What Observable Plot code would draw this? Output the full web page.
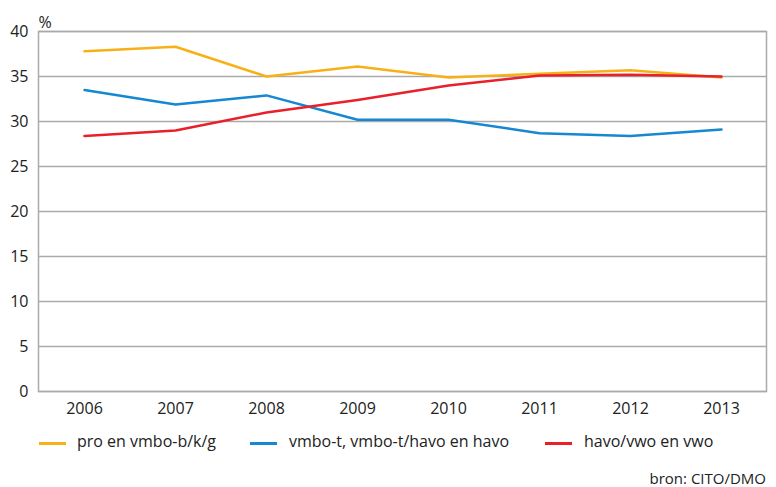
<!DOCTYPE html>
<html><head><meta charset="utf-8">
<script src="https://cdn.jsdelivr.net/npm/d3@7"></script>
<script src="https://cdn.jsdelivr.net/npm/@observablehq/plot@0.6"></script>
<style>
body{margin:0;background:#fff;font-family:"Open Sans",Lato,sans-serif;}
#wrap{position:relative;width:776px;height:487px;}
.lg{position:absolute;font-size:16px;color:#222;top:430px;white-space:nowrap;}
.sw{position:absolute;height:3px;top:442px;}
#cap{position:absolute;right:10px;top:468px;font-size:15px;color:#222;}
</style></head>
<body><div id="wrap"></div>
<script>
const years = ["2006","2007","2008","2009","2010","2011","2012","2013"];
const seriesNames = ["pro en vmbo-b/k/g","vmbo-t, vmbo-t/havo en havo","havo/vwo en vwo"];
const proVmbo = [37.8, 38.3, 35.0, 36.1, 34.9, 35.3, 35.7, 34.9];
const vmboTHavo = [33.5, 31.9, 32.9, 30.2, 30.2, 28.7, 28.4, 29.1];
const havoVwo = [28.4, 29.0, 31.0, 32.4, 34.0, 35.1, 35.2, 35.0];
const yTicks = [0,5,10,15,20,25,30,35,40];
const colors = ["#f7b117","#1588d1","#e8202a"];

const data = [];
[proVmbo, vmboTHavo, havoVwo].forEach((arr, i) => arr.forEach((v, j) => data.push({year: years[j], value: v, series: seriesNames[i]})));

const chart = Plot.plot({
  width: 776, height: 425,
  marginTop: 31, marginBottom: 34, marginLeft: 38, marginRight: 10,
  style: {fontFamily: "'Open Sans', Lato, sans-serif", fontSize: "16px", color: "#222"},
  x: {type: "point", domain: years, padding: 0.5, label: null},
  y: {domain: [0, 40], label: null},
  color: {domain: seriesNames, range: colors},
  marks: [
    Plot.gridY(yTicks, {stroke: "#aaa", strokeOpacity: 1, strokeWidth: 1.3}),
    Plot.frame({stroke: "#aaa", strokeWidth: 1.5}),
    Plot.axisY(yTicks, {tickSize: 0, tickPadding: 10, label: null, fontSize: 16}),
    Plot.axisX({tickSize: 0, tickPadding: 11, label: null, fontSize: 16}),
    Plot.line(data, {x: "year", y: "value", z: "series", stroke: "series", strokeWidth: 2.5}),
    Plot.text(["%"], {frameAnchor: "top-left", dx: 0, dy: -15, textAnchor: "start", fontSize: 16})
  ]
});
const wrap = document.getElementById("wrap");
wrap.appendChild(chart);

const swX = [39, 250, 545];
const txX = [77, 289, 584];
seriesNames.forEach((n, i) => {
  const s = document.createElement("div");
  s.className = "sw"; s.style.left = swX[i] + "px"; s.style.width = "27px"; s.style.background = colors[i];
  wrap.appendChild(s);
  const t = document.createElement("div");
  t.className = "lg"; t.style.left = txX[i] + "px"; t.textContent = n;
  wrap.appendChild(t);
});
const cap = document.createElement("div");
cap.id = "cap"; cap.textContent = "bron: CITO/DMO";
wrap.appendChild(cap);
</script></body></html>
